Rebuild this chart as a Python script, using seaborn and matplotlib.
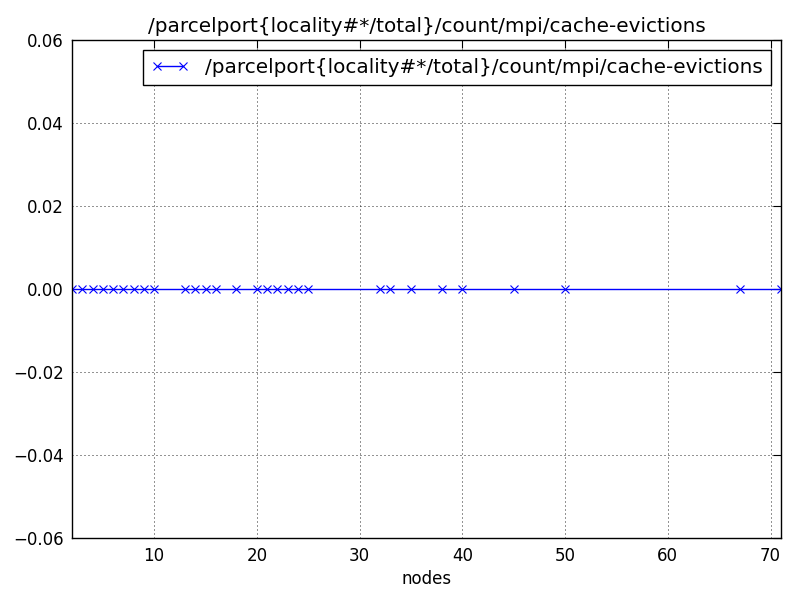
import matplotlib
matplotlib.use("Agg")
import matplotlib.pyplot as plt
import numpy as np
import pandas as pd
import seaborn as sns

sns.set_style("white", {"text.color": "black", "axes.labelcolor": "black",
                        "xtick.color": "black", "ytick.color": "black"})
plt.rcParams["font.family"] = ["DejaVu Sans"]
plt.rcParams["axes.unicode_minus"] = True

counter = "/parcelport{locality#*/total}/count/mpi/cache-evictions"
nodes = [2, 3, 4, 5, 6, 7, 8, 9, 10, 13, 14, 15, 16, 18, 20, 21, 22, 23, 24, 25,
         32, 33, 35, 38, 40, 45, 50, 67, 71]
values = [0.0] * len(nodes)

df = pd.DataFrame({"nodes": nodes, "value": values})

fig, ax = plt.subplots(figsize=(8, 6), dpi=100)
sns.lineplot(data=df, x="nodes", y="value", ax=ax, color="blue", marker="x",
             markersize=6, markeredgecolor="blue", markeredgewidth=0.8,
             linewidth=1, estimator=None, sort=False, label=counter)

ax.set_xlim(2, 71)
ax.set_ylim(-0.06, 0.06)
ax.set_yticks(np.arange(-0.06, 0.061, 0.02))
ax.yaxis.set_major_formatter(
    matplotlib.ticker.FuncFormatter(lambda v, p: f"{v:.2f}".replace("-", "\u2212")))
ax.set_xlabel("nodes", fontsize=12)
ax.set_ylabel("")
ax.set_title(counter, fontsize=14.4)
ax.grid(True, linestyle=(0, (1.2, 3.6)), color="black", linewidth=0.6)
ax.tick_params(direction="in", length=6, top=True, right=True, labelsize=12, pad=6)
for s in ax.spines.values():
    s.set_color("black")
    s.set_linewidth(1)
leg = ax.legend(loc="upper right", fontsize=14.4, fancybox=False, framealpha=1,
                edgecolor="black", handlelength=1.9, numpoints=2)
leg.get_frame().set_linewidth(1)

fig.subplots_adjust(left=0.09, right=0.976, top=0.933, bottom=0.103)
fig.savefig("out.png", dpi=100)
